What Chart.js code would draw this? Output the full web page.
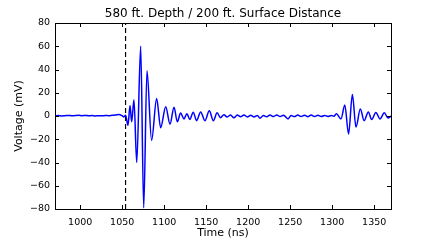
<!DOCTYPE html>
<html>
<head>
<meta charset="utf-8">
<script src="https://cdn.jsdelivr.net/npm/chart.js@4"></script>
<style>
  html, body { margin: 0; padding: 0; background: #fff; }
  #wrap { width: 436px; height: 240px; }
</style>
</head>
<body>
<div id="wrap"><canvas id="chart" width="436" height="240"></canvas></div>
<script>
// Waveform samples (time in ns, voltage in mV)
const timeNs = [
  970, 974, 978, 982, 986, 990, 994, 998, 1002, 1006, 1010, 1014, 1018, 1022, 1026, 1030,
  1034, 1038, 1042, 1046, 1050, 1052, 1054,
  1056.9, 1059.3, 1061.3, 1064, 1067.3, 1072, 1075.6, 1079.5, 1085, 1091, 1095.8, 1101.8,
  1106.9, 1111.7, 1115.6, 1119.5, 1123.6, 1127, 1130.5, 1134.6, 1138.5, 1143.4, 1148.5,
  1153.7, 1158.5, 1163, 1167,
  1171, 1175, 1179, 1183, 1187, 1191, 1195, 1199, 1203, 1207, 1211, 1214, 1218, 1222, 1226,
  1230, 1234, 1238, 1242, 1247.5, 1251, 1255, 1259, 1263, 1267, 1271, 1275, 1279, 1283,
  1287, 1291, 1295, 1299, 1302,
  1305, 1310.5, 1315, 1319.5, 1324, 1328.3, 1333.5, 1338, 1343, 1347, 1352, 1357, 1362,
  1366.5, 1370
];
const voltageMv = [
  0.2, 0.4, 0.1, 0.3, 0.5, 0.2, 0.4, 0.6, 0.3, 0.5, 0.2, 0.4, 0.1, 0.3, 0.2, 0.4,
  0.3, 0.6, 0.8, 1.3, 0.2, -0.8, 0.6,
  -8, 9, -5, 14, -40, 60, -79, 39, -21, 15, -10, 8,
  -7, 7.6, -5, 2.5, -2.5, 2, -3, 3.3, -4, 3.5, -4,
  4.5, -4, 2.7, -1.5,
  1, -0.8, 0.8, -1.5, 0.8, -0.6, 0.8, -0.8, 0.6, -0.8, 0.5, -2, 0.5, -0.6, 0.8,
  -0.5, 0.9, -0.5, 0.6, -2.5, 0.4, -0.5, 0.8, -0.4, 0.7, -0.6, 0.8, -0.4, 0.6,
  -0.5, 0.5, -0.4, 0.4, -0.3,
  2, -2.5, 9.5, -15.5, 18.6, -9.5, 6, -4, 3.5, -3, 3, -2.5, 2.7,
  -1.8, 0
];

// dashed marker
const markerTime = 1054;

// axes
const xRange = [970, 1370];
const yRange = [-80, 80];
const xTicks = [1000, 1050, 1100, 1150, 1200, 1250, 1300, 1350];
const yTicks = [-80, -60, -40, -20, 0, 20, 40, 60, 80];

const titleText = '580 ft. Depth / 200 ft. Surface Distance';

Chart.defaults.font.family = "'DejaVu Sans', sans-serif";
Chart.defaults.color = '#000';

// frame + inward ticks on all four sides (matplotlib style), title over the plot area
const framePlugin = {
  id: 'frame',
  afterDraw(chart) {
    const { ctx, chartArea: a, scales } = chart;
    ctx.save();
    ctx.strokeStyle = '#000';
    ctx.lineWidth = 1;
    ctx.beginPath();
    xTicks.forEach(v => {
      const px = Math.round(scales.x.getPixelForValue(v)) + 0.5;
      ctx.moveTo(px, a.bottom); ctx.lineTo(px, a.bottom - 4);
      ctx.moveTo(px, a.top); ctx.lineTo(px, a.top + 4);
    });
    yTicks.forEach(v => {
      const py = Math.round(scales.y.getPixelForValue(v)) + 0.5;
      ctx.moveTo(a.left, py); ctx.lineTo(a.left + 4, py);
      ctx.moveTo(a.right, py); ctx.lineTo(a.right - 4, py);
    });
    ctx.stroke();
    ctx.strokeRect(Math.round(a.left) + 0.5, Math.round(a.top) + 0.5,
      Math.round(a.right - a.left), Math.round(a.bottom - a.top));

    ctx.fillStyle = '#000';
    ctx.font = "12px 'DejaVu Sans', sans-serif";
    ctx.textAlign = 'center';
    ctx.textBaseline = 'middle';
    ctx.fillText(titleText, (a.left + a.right) / 2, a.top - 9);
    ctx.restore();
  }
};

const ctx = document.getElementById('chart').getContext('2d');
new Chart(ctx, {
  type: 'line',
  data: {
    datasets: [
      {
        data: timeNs.map((t, i) => ({ x: t, y: voltageMv[i] })),
        borderColor: '#0000ff',
        borderWidth: 1.5,
        pointRadius: 0,
        cubicInterpolationMode: 'monotone',
        fill: false
      },
      {
        data: [{ x: markerTime, y: yRange[0] }, { x: markerTime, y: yRange[1] }],
        borderColor: '#000',
        borderWidth: 1.2,
        borderDash: [5, 3],
        pointRadius: 0,
        fill: false
      }
    ]
  },
  options: {
    responsive: false,
    animation: false,
    devicePixelRatio: 1,
    layout: { padding: { left: 0, right: 45, top: 23, bottom: 0 } },
    plugins: {
      legend: { display: false },
      tooltip: { enabled: false },
      title: { display: false }
    },
    scales: {
      x: {
        type: 'linear',
        min: xRange[0],
        max: xRange[1],
        grid: { display: false, drawTicks: false },
        border: { display: false },
        afterBuildTicks: s => { s.ticks = xTicks.map(v => ({ value: v })); },
        afterFit: s => { s.height = 31; },
        ticks: { font: { size: 9.5 }, padding: 8, maxRotation: 0, color: '#000', callback: v => String(v) },
        title: { display: true, text: 'Time (ns)', font: { size: 11 }, padding: { top: 0, bottom: 0 }, color: '#000' }
      },
      y: {
        type: 'linear',
        min: yRange[0],
        max: yRange[1],
        grid: { display: false, drawTicks: false },
        border: { display: false },
        afterBuildTicks: s => { s.ticks = yTicks.map(v => ({ value: v })); },
        afterFit: s => { s.width = 55; },
        ticks: {
          font: { size: 9.5 },
          padding: 5,
          color: '#000',
          callback: v => String(v).replace('-', '\u2212')
        },
        title: { display: true, text: 'Voltage (mV)', font: { size: 11 }, padding: { top: 13, bottom: 0 }, color: '#000' }
      }
    }
  },
  plugins: [framePlugin]
});
</script>
</body>
</html>
